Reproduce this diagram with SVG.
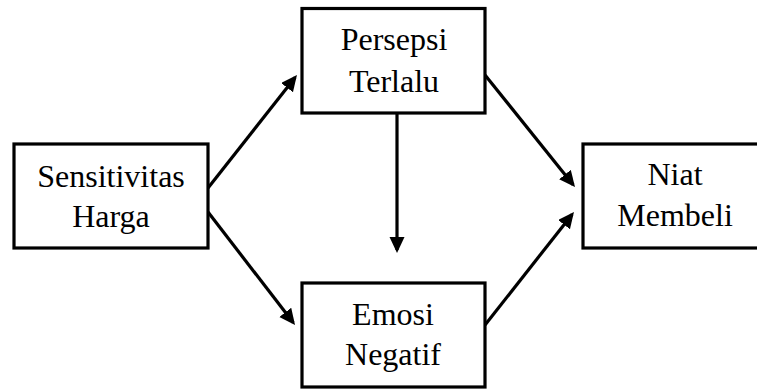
<svg xmlns="http://www.w3.org/2000/svg" width="757" height="389" viewBox="0 0 757 389">
<style>
.box{fill:#fff;stroke:#000;stroke-width:3.2}
.lbl{font-family:"Liberation Serif","Times New Roman",serif;font-size:32px;fill:#000;text-anchor:middle}
.con{stroke:#000;stroke-width:3.2;fill:none;marker-end:url(#ah)}
</style>
<defs>
<marker id="ah" markerUnits="userSpaceOnUse" markerWidth="18" markerHeight="16" refX="13" refY="7.5" orient="auto">
<path d="M0,0 L16,7.5 L0,15 z" fill="#000"/>
</marker>
</defs>
<rect width="757" height="389" fill="#fff"/>
<g id="connectors">
<line class="con" x1="208" y1="188" x2="295.1" y2="77.4"/>
<line class="con" x1="208" y1="212" x2="293.2" y2="322.6"/>
<line class="con" x1="485" y1="75" x2="573.1" y2="184.7"/>
<line class="con" x1="485" y1="325" x2="572.1" y2="214.4"/>
<line class="con" x1="397" y1="113" x2="397" y2="250"/>
</g>
<g id="sensitivitas">
<rect class="box" x="14" y="144" width="194" height="104"/>
<text class="lbl" x="111" y="187">Sensitivitas</text>
<text class="lbl" x="111" y="227">Harga</text>
</g>
<g id="persepsi">
<rect class="box" x="302" y="8.5" width="183" height="104.5"/>
<text class="lbl" x="394" y="50">Persepsi</text>
<text class="lbl" x="394" y="92">Terlalu</text>
</g>
<g id="emosi">
<rect class="box" x="302" y="283" width="183" height="104"/>
<text class="lbl" x="393" y="325">Emosi</text>
<text class="lbl" x="393" y="365">Negatif</text>
</g>
<g id="niat">
<rect class="box" x="583" y="144" width="190" height="104"/>
<text class="lbl" x="675" y="185">Niat</text>
<text class="lbl" x="675" y="226">Membeli</text>
</g>
</svg>
